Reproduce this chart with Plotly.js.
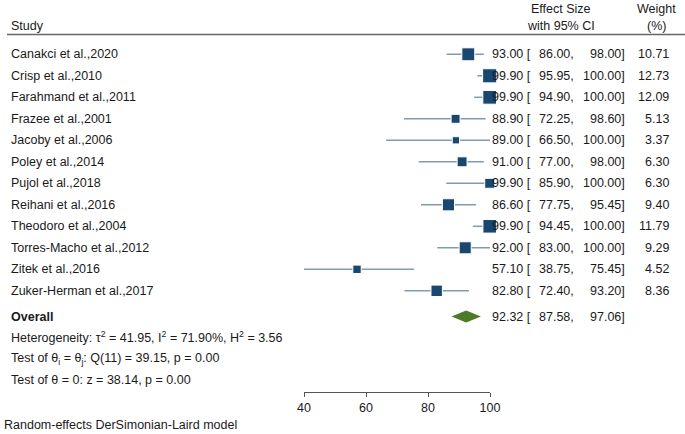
<!DOCTYPE html>
<html>
<head>
<meta charset="utf-8">
<script src="https://cdn.plot.ly/plotly-3.0.1.min.js"></script>
<style>
  html, body { margin: 0; padding: 0; background: #fff; }
  #forest { width: 685px; height: 434px; }
</style>
</head>
<body>
<div id="forest"></div>
<script>
// study data
const studies = [
    'Canakci et al.,2020', 'Crisp et al.,2010', 'Farahmand et al.,2011',
    'Frazee et al.,2001', 'Jacoby et al.,2006', 'Poley et al.,2014',
    'Pujol et al.,2018', 'Reihani et al.,2016', 'Theodoro et al.,2004',
    'Torres-Macho et al.,2012', 'Zitek et al.,2016', 'Zuker-Herman et al.,2017'
];
const effect = [93.00, 99.90, 99.90, 88.90, 89.00, 91.00, 99.90, 86.60, 99.90, 92.00, 57.10, 82.80];
const ciLow  = [86.00, 95.95, 94.90, 72.25, 66.50, 77.00, 85.90, 77.75, 94.45, 83.00, 38.75, 72.40];
const ciHigh = [98.00, 100.00, 100.00, 98.60, 100.00, 98.00, 100.00, 95.45, 100.00, 100.00, 75.45, 93.20];
const weight = [10.71, 12.73, 12.09, 5.13, 3.37, 6.30, 6.30, 9.40, 11.79, 9.29, 4.52, 8.36];

const overall = { est: 92.32, lo: 87.58, hi: 97.06 };
const tickVals = [40, 60, 80, 100];

const W = 685, H = 434;
const px = (x) => x / W;
const py = (y) => 1 - y / H;

// row index -> y pixel is 54.3 + 21.5*i
const rows = studies.map((s, i) => i);
const overallRow = 12.2;

const textColor = '#1a1a1a';
const font = { family: 'Liberation Sans, Arial, sans-serif', size: 12.5, color: textColor };

const squares = {
    x: effect,
    y: rows,
    type: 'scatter',
    mode: 'markers',
    cliponaxis: false,
    hoverinfo: 'skip',
    marker: {
        symbol: 'square',
        color: '#1a476f',
        opacity: 1,
        size: weight.map(w => 3.95 * Math.sqrt(w))
    },
    error_x: {
        type: 'data',
        symmetric: false,
        array: ciHigh.map((h, i) => h - effect[i]),
        arrayminus: ciLow.map((l, i) => effect[i] - l),
        width: 0,
        thickness: 1.5,
        color: '#8199b3'
    }
};

const diamond = {
    x: [overall.lo, overall.est, overall.hi, overall.est, overall.lo],
    y: [overallRow, overallRow - 0.28, overallRow, overallRow + 0.28, overallRow],
    type: 'scatter',
    mode: 'lines',
    fill: 'toself',
    fillcolor: '#4f7a28',
    line: { width: 0, color: '#4f7a28' },
    cliponaxis: false,
    hoverinfo: 'skip'
};

const annotations = [];
function txt(x, y, text, anchor, extra) {
    annotations.push(Object.assign({
        xref: 'paper', yref: 'paper',
        x: px(x), y: py(y),
        text: text,
        showarrow: false,
        xanchor: anchor,
        yanchor: 'middle',
        borderpad: 0,
        font: font
    }, extra || {}));
}

// header
txt(10, 26, 'Study', 'left');
txt(561, 9, 'Effect Size', 'center');
txt(561, 26, 'with 95% CI', 'center');
txt(656, 9, 'Weight', 'center');
txt(656, 26, '(%)', 'center');

// study rows
studies.forEach((s, i) => {
    const y = 54.3 + 21.5 * i;
    txt(10, y, s, 'left');
    txt(532, y, effect[i].toFixed(2) + ' [', 'right');
    txt(575, y, ciLow[i].toFixed(2) + ',', 'right');
    txt(626, y, ciHigh[i].toFixed(2) + ']', 'right');
    txt(670, y, weight[i].toFixed(2), 'right');
});

// overall row
const yo = 54.3 + 21.5 * overallRow;
txt(10, yo, '<b>Overall</b>', 'left');
txt(532, yo, overall.est.toFixed(2) + ' [', 'right');
txt(575, yo, overall.lo.toFixed(2) + ',', 'right');
txt(626, yo, overall.hi.toFixed(2) + ']', 'right');

txt(10, 337, 'Heterogeneity: τ<sup>2</sup> = 41.95, I<sup>2</sup> = 71.90%, H<sup>2</sup> = 3.56', 'left');
txt(10, 359, 'Test of θ<sub>i</sub> = θ<sub>j</sub>: Q(11) = 39.15, p = 0.00', 'left');
txt(10, 380, 'Test of θ = 0: z = 38.14, p = 0.00', 'left');
txt(3, 425, 'Random-effects DerSimonian-Laird model', 'left');

const layout = {
    width: W,
    height: H,
    margin: { l: 0, r: 0, t: 0, b: 0, pad: 0 },
    paper_bgcolor: '#fff',
    plot_bgcolor: '#fff',
    showlegend: false,
    font: font,
    xaxis: {
        domain: [px(304), px(490)],
        range: [40, 100],
        anchor: 'free',
        position: py(392),
        tickmode: 'array',
        tickvals: tickVals,
        ticks: 'outside',
        ticklen: 4,
        tickcolor: '#555',
        showline: true,
        linecolor: '#555',
        linewidth: 1,
        showgrid: false,
        zeroline: false,
        tickfont: font,
        fixedrange: true
    },
    yaxis: {
        domain: [0, 1],
        range: [(H - 54.3) / 21.5, -54.3 / 21.5],
        visible: false,
        showgrid: false,
        zeroline: false,
        fixedrange: true
    },
    shapes: [{
        type: 'line',
        xref: 'paper', yref: 'paper',
        x0: px(7), x1: 1,
        y0: py(34.5), y1: py(34.5),
        line: { color: '#666', width: 1.5 }
    }],
    annotations: annotations
};

Plotly.newPlot('forest', [squares, diamond], layout, {
    displayModeBar: false,
    staticPlot: true
});
</script>
</body>
</html>
